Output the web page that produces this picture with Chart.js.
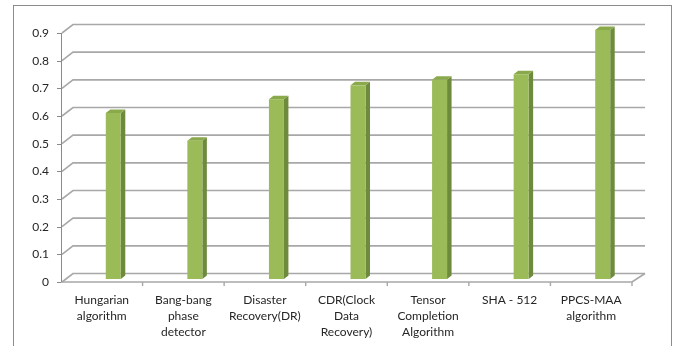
<!DOCTYPE html>
<html>
<head>
<meta charset="utf-8">
<script src="https://cdn.jsdelivr.net/npm/chart.js@4.4.0/dist/chart.umd.min.js"></script>
<style>
  body { margin: 0; background: #fff; }
  canvas { display: block; }
</style>
</head>
<body>
<canvas id="myChart" width="674" height="346"></canvas>
<script>
// data
const categories = [
  ["Hungarian", "algorithm"],
  ["Bang-bang", "phase", "detector"],
  ["Disaster", "Recovery(DR)"],
  ["CDR(Clock", "Data", "Recovery)"],
  ["Tensor", "Completion", "Algorithm"],
  ["SHA - 512"],
  ["PPCS-MAA", "algorithm"]
];
const values = [0.6, 0.5, 0.65, 0.7, 0.72, 0.74, 0.9];
const yMax = 0.9;
const yStep = 0.1;

// fake 3d look
const wallDx = 12, wallDy = -8.5;
const barDx = 4, barDy = -3, barW = 15, sideDx = 4.5, sideDy = -3.5;

const gridColor = '#a8a8a8';
const axisColor = '#8a8a8a';

const threeD = {
  id: 'threeD',
  beforeDraw(chart) {
    const ctx = chart.ctx;
    ctx.save();
    ctx.strokeStyle = '#8c8c8c';
    ctx.lineWidth = 1;
    ctx.strokeRect(13.5, 5.5, 658, 400);
    ctx.restore();
  },
  beforeDatasetsDraw(chart) {
    const ctx = chart.ctx;
    const x = chart.scales.x, y = chart.scales.y;
    const left = chart.chartArea.left, right = chart.chartArea.right;
    ctx.save();
    // back wall grid lines
    ctx.strokeStyle = gridColor;
    ctx.lineWidth = 1.6;
    y.ticks.forEach(t => {
      const py = y.getPixelForValue(t.value);
      ctx.beginPath();
      ctx.moveTo(left + 1, py);
      ctx.lineTo(left + wallDx, py + wallDy);
      ctx.lineTo(right + wallDx + 1, py + wallDy);
      ctx.stroke();
    });
    // floor front edge
    const base = y.getPixelForValue(0);
    ctx.beginPath();
    ctx.moveTo(left, base);
    ctx.lineTo(right, base);
    ctx.lineTo(right + wallDx + 1, base + wallDy);
    ctx.stroke();
    // front value axis
    ctx.strokeStyle = axisColor;
    ctx.lineWidth = 1;
    ctx.beginPath();
    ctx.moveTo(left + 0.5, y.getPixelForValue(yMax));
    ctx.lineTo(left + 0.5, base);
    ctx.stroke();
    y.ticks.forEach(t => {
      const py = Math.round(y.getPixelForValue(t.value)) + 0.5;
      ctx.beginPath();
      ctx.moveTo(left - 4, py);
      ctx.lineTo(left, py);
      ctx.stroke();
    });
    // category tick marks between categories and at the end
    ctx.strokeStyle = gridColor;
    ctx.lineWidth = 1.4;
    for (let i = 1; i <= categories.length; i++) {
      const tx = i < categories.length
        ? (x.getPixelForTick(i - 1) + x.getPixelForTick(i)) / 2
        : right;
      ctx.beginPath();
      ctx.moveTo(tx, base);
      ctx.lineTo(tx, base + 4);
      ctx.stroke();
    }
    ctx.restore();
  },
  afterDatasetsDraw(chart) {
    const ctx = chart.ctx;
    const meta = chart.getDatasetMeta(0);
    const base = chart.scales.y.getPixelForValue(0);
    ctx.save();
    meta.data.forEach(bar => {
      const l = bar.x + barDx, r = l + barW;
      const top = bar.y + barDy, bot = base + barDy;
      // side
      ctx.fillStyle = '#6e8b3d';
      ctx.beginPath();
      ctx.moveTo(r, top);
      ctx.lineTo(r + sideDx, top + sideDy);
      ctx.lineTo(r + sideDx, bot + sideDy);
      ctx.lineTo(r, bot);
      ctx.closePath();
      ctx.fill();
      // top
      ctx.fillStyle = '#89a94b';
      ctx.beginPath();
      ctx.moveTo(l, top);
      ctx.lineTo(l + sideDx, top + sideDy);
      ctx.lineTo(r + sideDx, top + sideDy);
      ctx.lineTo(r, top);
      ctx.closePath();
      ctx.fill();
      // front
      ctx.fillStyle = '#9bbb59';
      ctx.fillRect(l, top, barW, bot - top);
    });
    ctx.restore();
  }
};

new Chart(document.getElementById('myChart'), {
  type: 'bar',
  data: {
    labels: categories,
    datasets: [{
      data: values,
      backgroundColor: 'rgba(0,0,0,0)',
      borderWidth: 0
    }]
  },
  options: {
    responsive: false,
    animation: false,
    layout: { padding: { top: 33, right: 42, left: 0, bottom: 0 } },
    plugins: { legend: { display: false }, tooltip: { enabled: false } },
    scales: {
      x: {
        grid: { display: false, drawTicks: false },
        border: { display: false },
        afterFit: s => { s.height = 64; },
        ticks: {
          padding: 10,
          maxRotation: 0,
          autoSkip: false,
          color: '#262626',
          font: { family: 'Lato', size: 12, lineHeight: 1.35 }
        }
      },
      y: {
        min: 0,
        max: yMax,
        grid: { display: false, drawTicks: false },
        border: { display: false },
        afterFit: s => { s.width = 61; },
        ticks: {
          stepSize: yStep,
          padding: 12,
          color: '#262626',
          font: { family: 'Lato', size: 12 },
          callback: v => String(+v.toFixed(1))
        }
      }
    }
  },
  plugins: [threeD]
});
</script>
</body>
</html>
